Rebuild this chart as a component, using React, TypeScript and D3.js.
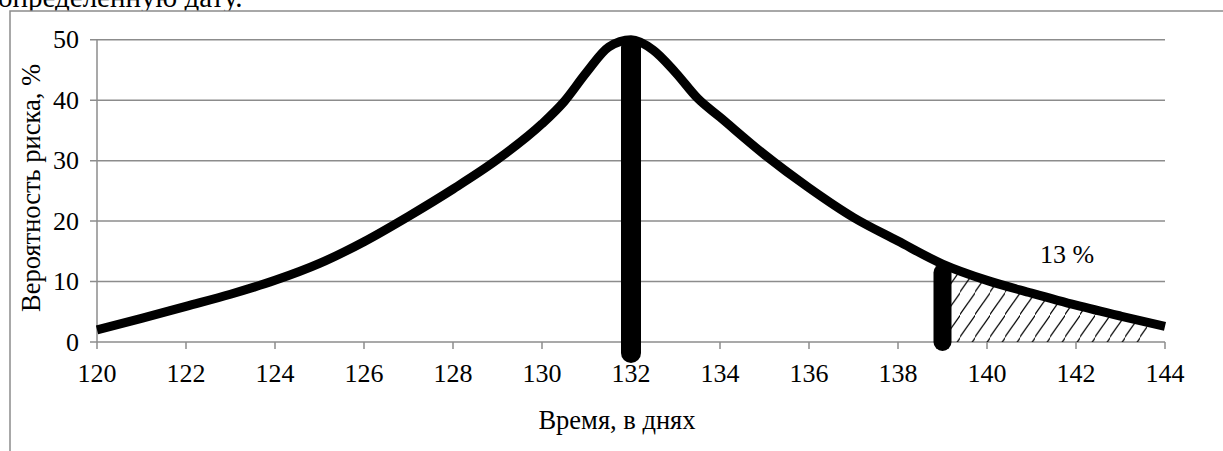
import { useEffect, useRef } from "react";
import * as d3 from "d3";

// Risk curve (day -> %)
const DAYS = [
  120, 121, 122, 123, 124, 125, 126, 127, 128, 129, 130, 130.5, 131, 131.5, 132,
  132.5, 133, 133.5, 134, 135, 136, 137, 138, 139, 140, 141, 142, 143, 144,
];
const RISK = [
  2, 3.9, 5.9, 7.9, 10.2, 13, 16.6, 20.8, 25.3, 30.2, 36.1, 39.8, 44.6, 48.8, 50,
  48.3, 44.6, 40.3, 37.2, 31, 25.5, 20.6, 16.7, 12.9, 10.2, 8.1, 6.1, 4.3, 2.6,
];
const X_TICKS = [120, 122, 124, 126, 128, 130, 132, 134, 136, 138, 140, 142, 144];
const Y_TICKS = [0, 10, 20, 30, 40, 50];

const MEAN_DAY = 132;
const MEAN_BAR = [-1.8, 48.8];
const CUT_DAY = 139;
const CUT_BAR = [0, 11.5];
const HATCH_RANGE = [139, 143.6];
const HATCH_LABEL = "13 %";
const HATCH_LABEL_POS = { day: 141.8, value: 13 };

const X_TITLE = "Время, в днях";
const Y_TITLE = "Вероятность риска, %";
const CUT_TEXT = "определенную дату.";

const WIDTH = 1223;
const HEIGHT = 451;
const PLOT = { left: 97, right: 1165, top: 39.8, bottom: 342 };

const GRID = "#8c8c8c";
const FONT = "Liberation Serif, DejaVu Serif, Times, serif";

export default function App() {
  const svgRef = useRef<SVGSVGElement>(null);

  useEffect(() => {
    const svg = d3.select(svgRef.current);
    svg.selectAll("*").remove();
    svg
      .attr("width", WIDTH)
      .attr("height", HEIGHT)
      .attr("viewBox", `0 0 ${WIDTH} ${HEIGHT}`)
      .style("font-family", FONT);

    const x = d3.scaleLinear().domain([120, 144]).range([PLOT.left, PLOT.right]);
    const y = d3.scaleLinear().domain([0, 50]).range([PLOT.bottom, PLOT.top]);

    const data = DAYS.map((d, i) => ({ day: d, risk: RISK[i] }));

    const defs = svg.append("defs");
    const pat = defs
      .append("pattern")
      .attr("id", "hatch")
      .attr("patternUnits", "userSpaceOnUse")
      .attr("width", 15)
      .attr("height", 22.5);
    pat
      .append("path")
      .attr("d", "M-1.5,24 L16.5,-1.5")
      .attr("stroke", "#000")
      .attr("stroke-width", 1.2);
    defs
      .append("clipPath")
      .attr("id", "hatch-clip")
      .append("rect")
      .attr("x", x(HATCH_RANGE[0]))
      .attr("y", PLOT.top)
      .attr("width", x(HATCH_RANGE[1]) - x(HATCH_RANGE[0]))
      .attr("height", PLOT.bottom - PLOT.top);

    // text cut off above the chart frame
    svg
      .append("text")
      .attr("x", -2)
      .attr("y", 7)
      .style("font-size", "29px")
      .attr("fill", "#000")
      .text(CUT_TEXT);

    // chart frame (continues past the window)
    svg
      .append("rect")
      .attr("x", 10)
      .attr("y", 11)
      .attr("width", WIDTH + 20)
      .attr("height", HEIGHT + 20)
      .attr("fill", "#fff")
      .attr("stroke", GRID)
      .attr("stroke-width", 1.5);

    // gridlines + y ticks
    Y_TICKS.forEach((t) => {
      svg
        .append("line")
        .attr("x1", PLOT.left - 7)
        .attr("x2", PLOT.right)
        .attr("y1", y(t))
        .attr("y2", y(t))
        .attr("stroke", GRID)
        .attr("stroke-width", 1.5);
      svg
        .append("text")
        .attr("x", 79)
        .attr("y", y(t))
        .attr("text-anchor", "end")
        .attr("dominant-baseline", "central")
        .style("font-size", "26px")
        .text(t);
    });

    // y axis line
    svg
      .append("line")
      .attr("x1", PLOT.left)
      .attr("x2", PLOT.left)
      .attr("y1", PLOT.top)
      .attr("y2", PLOT.bottom)
      .attr("stroke", GRID)
      .attr("stroke-width", 1.5);

    // x ticks
    X_TICKS.forEach((t) => {
      svg
        .append("line")
        .attr("x1", x(t))
        .attr("x2", x(t))
        .attr("y1", PLOT.bottom)
        .attr("y2", PLOT.bottom + 7)
        .attr("stroke", GRID)
        .attr("stroke-width", 1.5);
      svg
        .append("text")
        .attr("x", x(t))
        .attr("y", 382)
        .attr("text-anchor", "middle")
        .style("font-size", "26px")
        .text(t);
    });

    // hatched tail area
    const area = d3
      .area<{ day: number; risk: number }>()
      .x((d) => x(d.day))
      .y0(y(0))
      .y1((d) => y(d.risk))
      .curve(d3.curveMonotoneX);
    svg
      .append("path")
      .datum(data)
      .attr("d", area)
      .attr("fill", "url(#hatch)")
      .attr("clip-path", "url(#hatch-clip)");

    // risk curve
    const line = d3
      .line<{ day: number; risk: number }>()
      .x((d) => x(d.day))
      .y((d) => y(d.risk))
      .curve(d3.curveMonotoneX);
    svg
      .append("path")
      .datum(data)
      .attr("d", line)
      .attr("fill", "none")
      .attr("stroke", "#000")
      .attr("stroke-width", 9)
      .attr("stroke-linejoin", "round");

    // marker bars
    svg
      .append("line")
      .attr("x1", x(MEAN_DAY))
      .attr("x2", x(MEAN_DAY))
      .attr("y1", y(MEAN_BAR[0]))
      .attr("y2", y(MEAN_BAR[1]))
      .attr("stroke", "#000")
      .attr("stroke-width", 20)
      .attr("stroke-linecap", "round");
    svg
      .append("line")
      .attr("x1", x(CUT_DAY))
      .attr("x2", x(CUT_DAY))
      .attr("y1", y(CUT_BAR[0]))
      .attr("y2", y(CUT_BAR[1]))
      .attr("stroke", "#000")
      .attr("stroke-width", 18)
      .attr("stroke-linecap", "round");

    svg
      .append("text")
      .attr("x", x(HATCH_LABEL_POS.day))
      .attr("y", y(HATCH_LABEL_POS.value))
      .attr("text-anchor", "middle")
      .style("font-size", "26px")
      .text(HATCH_LABEL);

    // axis titles
    svg
      .append("text")
      .attr("x", 617)
      .attr("y", 429)
      .attr("text-anchor", "middle")
      .style("font-size", "26.5px")
      .text(X_TITLE);
    svg
      .append("text")
      .attr("transform", `translate(40,188) rotate(-90)`)
      .attr("text-anchor", "middle")
      .style("font-size", "26.5px")
      .text(Y_TITLE);
  }, []);

  return (
    <svg
      ref={svgRef}
      style={{ position: "absolute", left: 0, top: 0, background: "#fff" }}
    />
  );
}
